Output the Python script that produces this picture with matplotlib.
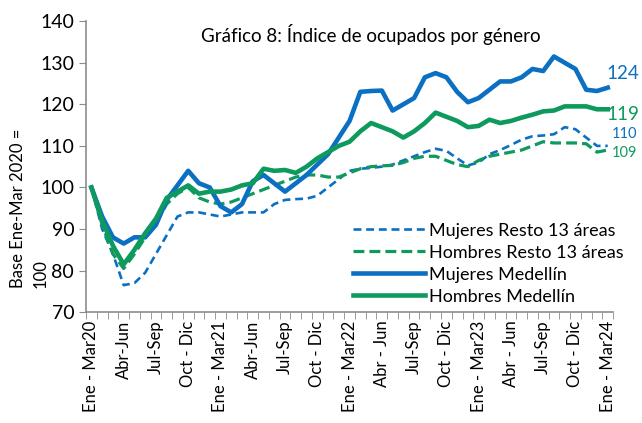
import numpy as np
import matplotlib
matplotlib.use("Agg")
import matplotlib.pyplot as plt

plt.rcParams["font.family"] = ["Lato", "DejaVu Sans"]

BLUE = "#0B6FC2"
GREEN = "#0E9A5E"

tick_labels = [
    "Ene - Mar20", "Abr-Jun", "Jul-Sep", "Oct - Dic",
    "Ene - Mar21", "Abr-Jun", "Jul-Sep", "Oct - Dic",
    "Ene - Mar22", "Abr - Jun", "Jul-Sep", "Oct - Dic",
    "Ene - Mar23", "Abr - Jun", "Jul-Sep", "Oct - Dic",
    "Ene - Mar24",
]

mujeres_resto = [
    100, 90, 84, 76.5, 77, 79.5, 84, 88.5, 93, 94,
    94, 93.5, 93, 93.5, 94, 94, 94, 96, 97, 97.2,
    97.3, 98, 100, 102, 104, 104.5, 104.7, 105, 105.5, 106.5,
    107.5, 108.5, 109.3, 108.8, 107, 105.3, 106, 108, 109, 110.2,
    111.5, 112.3, 112.5, 112.8, 114.5, 114, 112, 110, 110,
]
hombres_resto = [
    100, 91, 84, 80.5, 84, 88, 91.5, 96, 98.5, 100,
    97.5, 96.5, 96, 96.5, 97.5, 98.5, 99.5, 100.5, 101.5, 102.5,
    103, 103, 102.5, 102.5, 103.5, 104.5, 105, 105.2, 105.3, 106,
    107, 107.5, 107.5, 106.5, 105.5, 105, 106.5, 107.5, 108, 108.5,
    109, 110, 111, 110.7, 110.7, 110.7, 110.5, 108.5, 109,
]
mujeres_med = [
    100, 93, 88, 86.5, 88, 88, 91, 97, 100.5, 104,
    101, 100, 95.5, 94, 96, 101.5, 103, 101, 99, 101,
    103, 105.5, 108, 112, 116, 123, 123.2, 123.3, 118.5, 120,
    121.5, 126.5, 127.5, 126.5, 123, 120.5, 121.5, 123.5, 125.5, 125.5,
    126.5, 128.5, 128, 131.5, 130, 128.5, 123.5, 123.2, 124,
]
hombres_med = [
    100, 92, 86, 81.5, 85, 89, 92.5, 97.5, 99, 100.5,
    98.5, 99, 99, 99.5, 100.5, 101, 104.5, 104, 104.2, 103.5,
    105, 107, 108.5, 110, 111, 113.5, 115.5, 114.5, 113.5, 112,
    113.5, 115.5, 118, 117, 116, 114.5, 114.8, 116.3, 115.5, 116,
    116.8, 117.5, 118.3, 118.5, 119.5, 119.5, 119.5, 118.8, 118.8,
]

fig = plt.figure(figsize=(6.42, 4.23), dpi=100)
ax = fig.add_axes([0.134, 0.262, 0.821, 0.688])

x = np.arange(len(mujeres_med))
ax.plot(x, mujeres_resto, color=BLUE, lw=1.9, dashes=(3.0, 1.8), label="Mujeres Resto 13 áreas")
ax.plot(x, hombres_resto, color=GREEN, lw=2.3, dashes=(3.4, 1.6), label="Hombres Resto 13 áreas")
ax.plot(x, mujeres_med, color=BLUE, lw=3.3, label="Mujeres Medellín")
ax.plot(x, hombres_med, color=GREEN, lw=3.3, label="Hombres Medellín")

ax.set_xlim(-0.5, len(x) - 0.5)
ax.set_ylim(70, 140)
ax.set_yticks(np.arange(70, 141, 10))
ax.set_xticks(x[::3])
ax.set_xticklabels(tick_labels, rotation=90, fontsize=12)
ax.set_xticks(np.arange(-0.5, len(x), 1), minor=True)
ax.tick_params(axis="x", which="major", length=0, pad=6)
ax.tick_params(axis="x", which="minor", length=5, color="#8c8c8c")
ax.tick_params(axis="y", length=5, color="#8c8c8c", labelsize=14)

for side in ["top", "right"]:
    ax.spines[side].set_visible(False)
for side in ["left", "bottom"]:
    ax.spines[side].set_color("#8c8c8c")
    ax.spines[side].set_linewidth(1.2)

ax.text(0.54, 0.955, "Gráfico 8: Índice de ocupados por género", transform=ax.transAxes,
        ha="center", va="center", fontsize=13.5)

ax.text(47.9, mujeres_med[-1] + 3.3, f"{mujeres_med[-1]:.0f}", color=BLUE, fontsize=13.5, va="center")
ax.text(47.9, hombres_med[-1] - 1.2, f"{hombres_med[-1]:.0f}", color=GREEN, fontsize=13.5, va="center")
ax.text(48.4, mujeres_resto[-1] + 2.8, f"{mujeres_resto[-1]:.0f}", color=BLUE, fontsize=10.5, va="center")
ax.text(48.4, hombres_resto[-1] - 0.8, f"{hombres_resto[-1]:.0f}", color=GREEN, fontsize=10.5, va="center")

ax.legend(loc="lower right", bbox_to_anchor=(1.05, -0.03), frameon=False, fontsize=13,
          handlelength=4.0, handletextpad=0.2, labelspacing=0.33)

fig.text(0.028, 0.32, "Base Ene-Mar 2020 =", rotation=90, ha="center", va="bottom", fontsize=12)
fig.text(0.063, 0.32, "100", rotation=90, ha="center", va="bottom", fontsize=12)

fig.savefig("out.png", dpi=100)
